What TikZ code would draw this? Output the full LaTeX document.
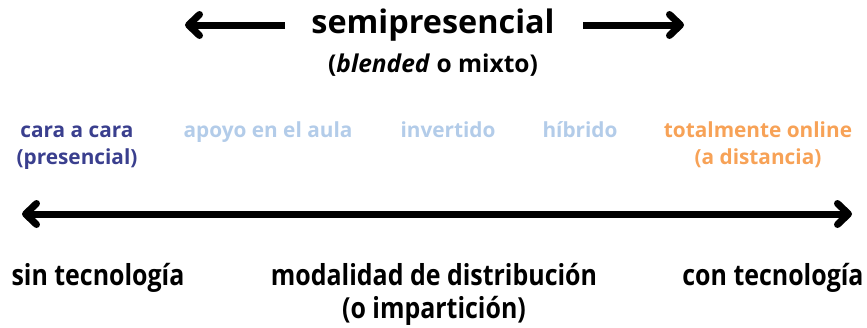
\documentclass[tikz,border=0pt]{standalone}
\usepackage{fontspec}
\setmainfont{Open Sans}[BoldFont={* Bold}]
\newfontfamily\condfont{Open Sans}[FakeStretch=0.86,BoldFont={* Bold}]
\usetikzlibrary{arrows.meta}
\definecolor{darkblue}{HTML}{3A3F8E}
\definecolor{lightblue}{HTML}{B3CCE9}
\definecolor{orangec}{HTML}{F7A257}
\begin{document}
\begin{tikzpicture}[x=1pt,y=-1pt,
  lbl/.style={font=\bfseries\fontsize{20.8}{26}\selectfont, inner sep=0pt, anchor=base},
  bot/.style={font=\condfont\bfseries\fontsize{29}{33}\selectfont, inner sep=0pt, anchor=base},
  arr/.style={line width=7pt, line cap=round, {Straight Barb[length=11pt,width=21pt,line cap=round,line join=round]}-{Straight Barb[length=11pt,width=21pt,line cap=round,line join=round]}},
  sarr/.style={line width=7pt, line cap=butt, -{Straight Barb[length=11pt,width=21pt,line cap=round,line join=round]}}]
\useasboundingbox (0,0) rectangle (867,327);
\node[font=\bfseries\fontsize{32.4}{36}\selectfont, inner sep=0pt, anchor=base] (semi) at (433,33) {semipresencial};
\node[font=\bfseries\fontsize{24.5}{28}\selectfont, inner sep=0pt, anchor=base] (blend) at (433,72) {(\textit{blended} o mixto)};
\coordinate (la1) at (285,25); \coordinate (la2) at (185,25);
\coordinate (ra1) at (583,25); \coordinate (ra2) at (684,25);
\draw[sarr] (la1) -- (la2);
\draw[sarr] (ra1) -- (ra2);
\node[lbl, text=darkblue] (cara) at (77,137) {cara a cara};
\node[lbl, text=darkblue] (pres) at (77,164) {(presencial)};
\node[lbl, text=lightblue] (apoyo) at (268,137) {apoyo en el aula};
\node[lbl, text=lightblue] (inv) at (448,137) {invertido};
\node[lbl, text=lightblue] (hib) at (580,137) {híbrido};
\node[lbl, text=orangec] (total) at (758,137) {totalmente online};
\node[lbl, text=orangec] (dist) at (758,164) {(a distancia)};
\coordinate (m1) at (22,214); \coordinate (m2) at (852,214);
\draw[arr] (m1) -- (m2);
\node[bot] (sin) at (98,285) {sin tecnología};
\node[bot] (mod) at (434,285) {modalidad de distribución};
\node[bot] (imp) at (434,318) {(o impartición)};
\node[bot] (con) at (773,285) {con tecnología};
\end{tikzpicture}
\end{document}
